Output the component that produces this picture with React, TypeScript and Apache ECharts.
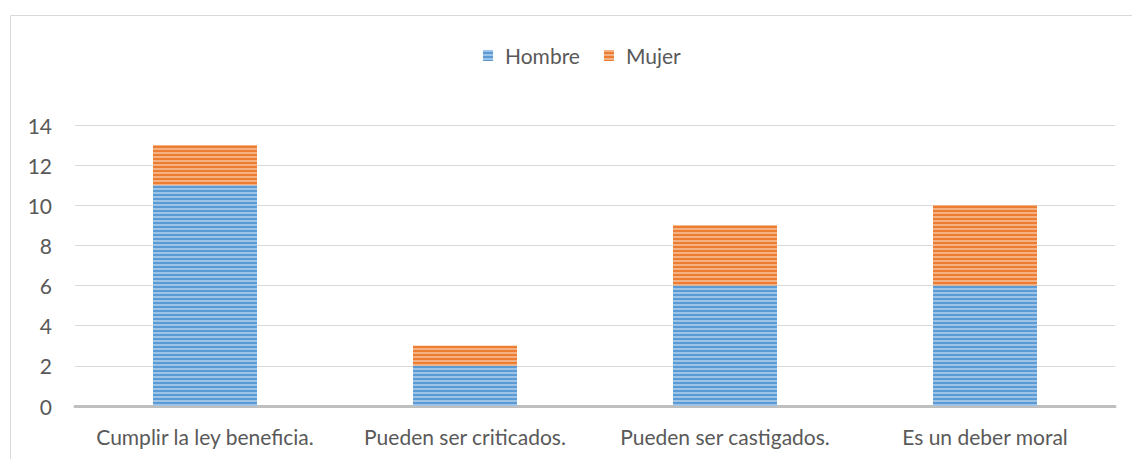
import React, { useEffect, useRef } from "react";
import * as echarts from "echarts";

const categories = [
  "Cumplir la ley beneficia.",
  "Pueden ser criticados.",
  "Pueden ser castigados.",
  "Es un deber moral",
];
const hombre = [11, 2, 6, 6];
const mujer = [2, 1, 3, 4];
const seriesNames = ["Hombre", "Mujer"];

const FONT = "Lato, 'Open Sans', sans-serif";
const stripe = {
  symbol: "rect",
  dashArrayX: [1, 0],
  dashArrayY: [2, 1.2],
  rotation: 0,
  color: "rgba(255,255,255,0.4)",
  symbolSize: 1,
};

export default function App() {
  const ref = useRef<HTMLDivElement>(null);
  useEffect(() => {
    if (!ref.current) return;
    const chart = echarts.init(ref.current, undefined, { renderer: "svg" });
    chart.setOption({
      animation: false,
      backgroundColor: "#ffffff",
      textStyle: { fontFamily: FONT },
      graphic: [
        {
          type: "rect",
          shape: { x: 10.5, y: 15.5, width: 1200, height: 500 },
          style: { fill: "none", stroke: "#D9D9D9", lineWidth: 1 },
          silent: true,
        },
      ],
      legend: {
        data: seriesNames,
        top: 40,
        left: 478,
        icon: "rect",
        itemWidth: 10,
        itemHeight: 11,
        itemGap: 24,
        textStyle: {
          color: "#595959",
          fontSize: 21,
          fontFamily: FONT,
          padding: [0, 0, 0, 7],
        },
      },
      grid: { left: 75, right: 17, top: 125, bottom: 53, containLabel: false },
      xAxis: {
        type: "category",
        data: categories,
        axisLine: { lineStyle: { color: "#BFBFBF", width: 3 } },
        axisTick: { show: false },
        axisLabel: {
          color: "#595959",
          fontSize: 21,
          margin: 20,
          fontFamily: FONT,
          interval: 0,
          hideOverlap: false,
        },
      },
      yAxis: {
        type: "value",
        min: 0,
        max: 14,
        interval: 2,
        axisLine: { show: false },
        axisTick: { show: false },
        splitLine: { lineStyle: { color: "#D9D9D9", width: 1 } },
        axisLabel: { color: "#595959", fontSize: 21, margin: 23, fontFamily: FONT },
      },
      series: [
        {
          name: seriesNames[0],
          type: "bar",
          stack: "total",
          data: hombre,
          barWidth: "40%",
          itemStyle: { color: "#5B9BD5", decal: stripe },
        },
        {
          name: seriesNames[1],
          type: "bar",
          stack: "total",
          data: mujer,
          barWidth: "40%",
          itemStyle: { color: "#ED7D31", decal: stripe },
        },
      ],
      aria: { enabled: false, decal: { show: true } },
    });
    return () => chart.dispose();
  }, []);
  return (
    <div
      ref={ref}
      style={{ position: "absolute", left: 0, top: 0, width: 1132, height: 459 }}
    />
  );
}
